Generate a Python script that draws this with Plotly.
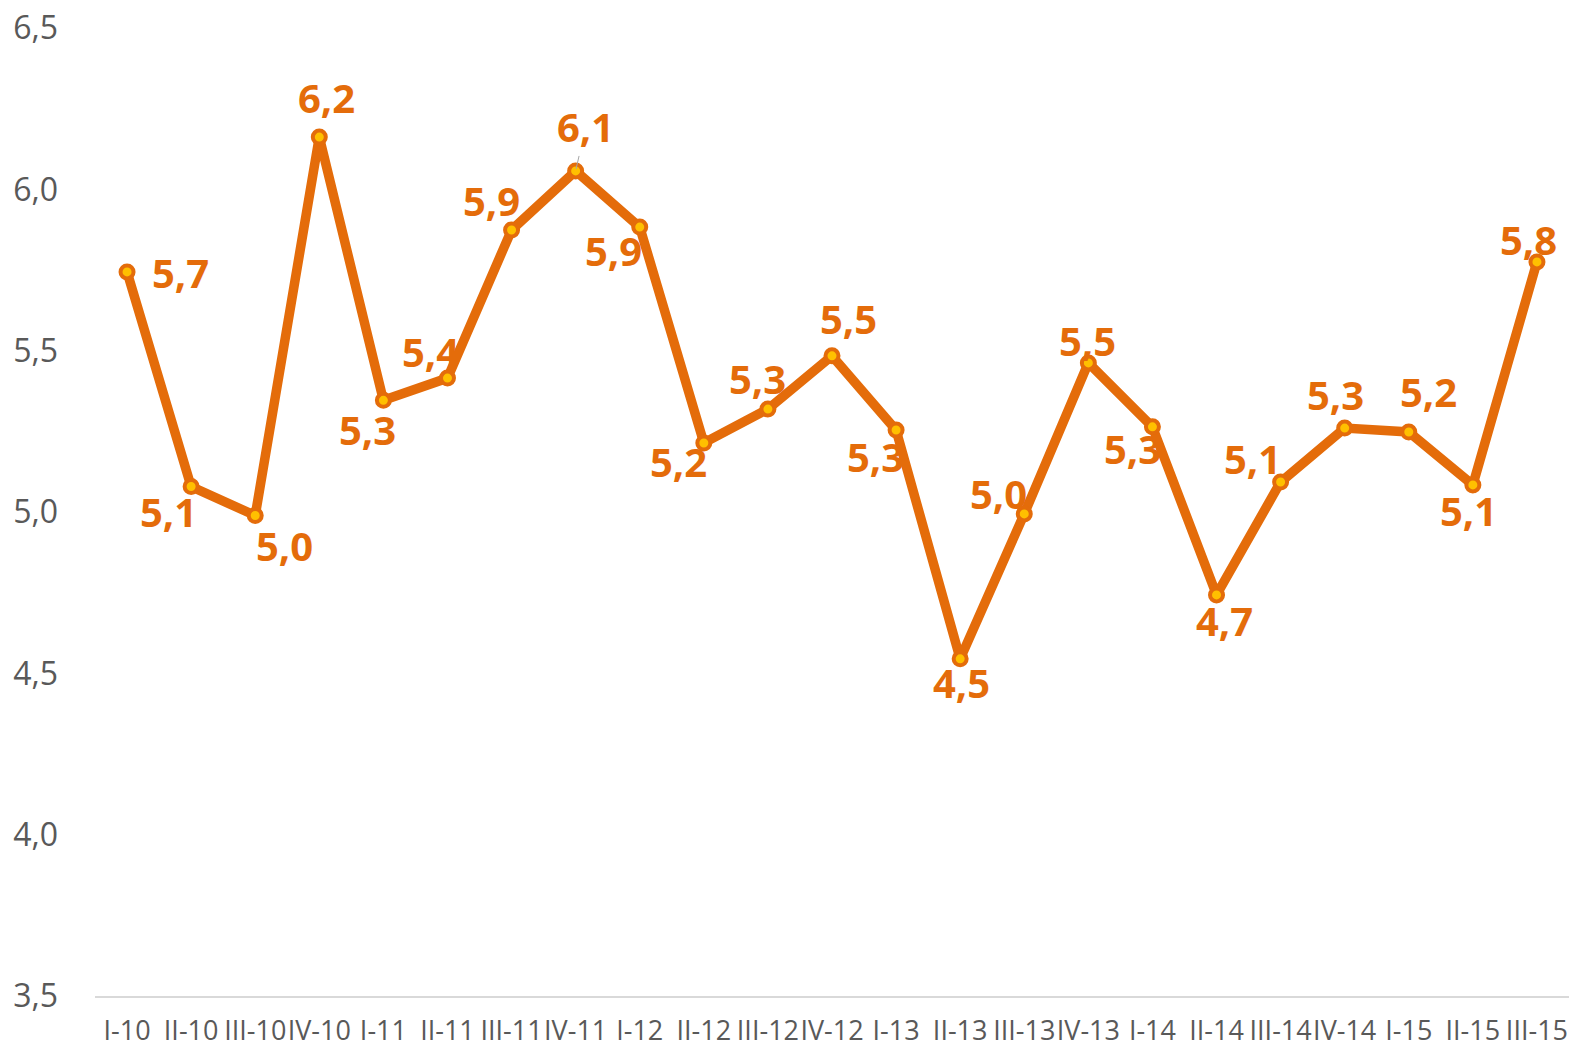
import plotly.graph_objects as go

categories = ["I-10", "II-10", "III-10", "IV-10", "I-11", "II-11", "III-11", "IV-11",
              "I-12", "II-12", "III-12", "IV-12", "I-13", "II-13", "III-13", "IV-13",
              "I-14", "II-14", "III-14", "IV-14", "I-15", "II-15", "III-15"]
values = [5.744, 5.079, 4.989, 6.162, 5.346, 5.415, 5.874, 6.057,
          5.883, 5.214, 5.319, 5.484, 5.254, 4.545, 4.994, 5.462,
          5.264, 4.743, 5.093, 5.260, 5.248, 5.084, 5.775]
y_ticks = [3.5, 4.0, 4.5, 5.0, 5.5, 6.0, 6.5]

# label offsets in pixels (dx right, dy down) relative to each point
label_dx = [53, -23, 29, 7, -16, -17, -20, 10, -26, -25, -10, 16, -21, 1, -26, -1, -20, 8, -28, -9, 20, -4, -8]
label_dy = [1, 25, 30, -40, 29, -27, -29, -44, 23, 19, -31, -37, 26, 24, -20, -22, 22, 26, -23, -34, -40, 26, -22]

ORANGE = "#E46C0A"
GOLD = "#FFC000"
GRAY = "#595959"

fig = go.Figure()
fig.add_trace(go.Scatter(
    x=categories, y=values, mode="lines+markers",
    line=dict(color=ORANGE, width=9.5),
    marker=dict(size=13, color=GOLD, line=dict(color=ORANGE, width=4)),
    hoverinfo="skip", showlegend=False, cliponaxis=False,
))

for i, (c, v) in enumerate(zip(categories, values)):
    txt = f"{v:.1f}".replace(".", ",")
    font = dict(family="Open Sans", size=40, color=ORANGE, weight="bold")
    if i == 7:
        fig.add_annotation(x=c, y=v, text=txt, showarrow=True, arrowhead=0,
                           arrowwidth=1, arrowcolor="#A6A6A6", ax=label_dx[i], ay=label_dy[i],
                           standoff=2, font=font)
    else:
        fig.add_annotation(x=c, y=v, text=txt, showarrow=False,
                           xshift=label_dx[i], yshift=-label_dy[i], font=font)

fig.update_layout(
    width=1573, height=1047,
    margin=dict(l=95, r=4, t=28, b=51),
    paper_bgcolor="white", plot_bgcolor="white",
    separators=", ",
    font=dict(family="Open Sans", color=GRAY),
)
fig.update_xaxes(
    type="category", range=[-0.5, len(categories) - 0.5], automargin=False,
    showgrid=False, showline=True, linecolor="#D9D9D9", linewidth=2,
    ticks="", tickangle=0, tickfont=dict(size=27, color=GRAY), ticklabelstandoff=10,
    ticklabeloverflow="allow",
)
fig.update_yaxes(
    range=[3.5, 6.5], tickvals=y_ticks, automargin=False,
    ticktext=[f"{t:.1f}".replace(".", ",") for t in y_ticks],
    showgrid=False, zeroline=False, showline=False, ticks="",
    tickfont=dict(size=32, color=GRAY), ticklabelstandoff=36,
    ticklabeloverflow="allow",
)

fig.write_html(
    "out.html",
    config={"displayModeBar": False},
    post_script="document.body.style.margin='0';document.body.style.overflow='hidden';",
)
